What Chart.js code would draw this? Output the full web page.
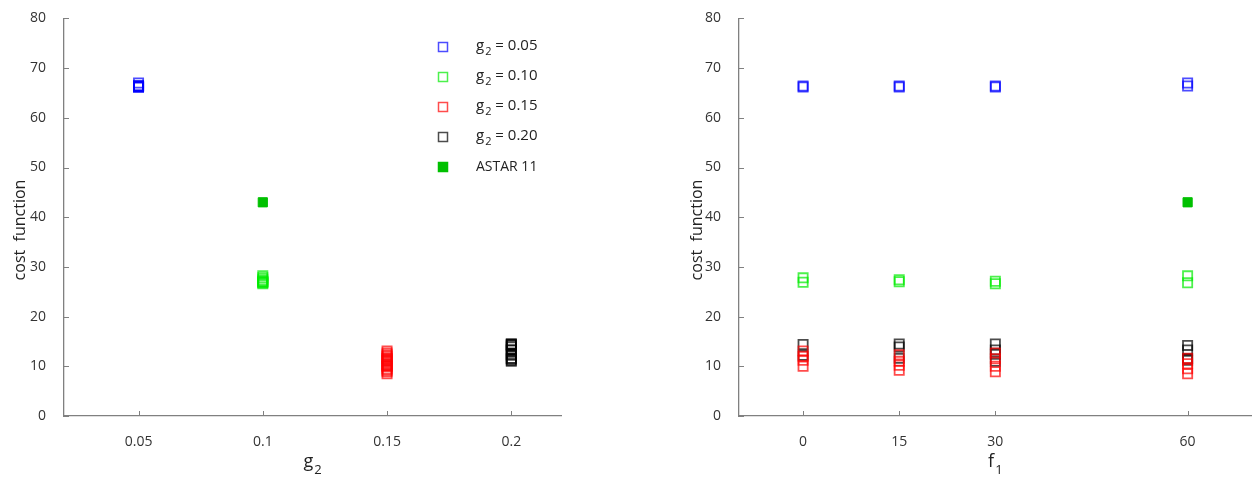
<!DOCTYPE html>
<html>
<head>
<meta charset="utf-8">
<script src="https://cdn.jsdelivr.net/npm/chart.js@4/dist/chart.umd.min.js"></script>
<style>
    html, body { margin: 0; padding: 0; background: #fff; overflow: hidden; }
    body { width: 1252px; height: 483px; position: relative; }
    #left { position: absolute; left: 0; top: 0; }
    #right { position: absolute; left: 676px; top: 0; }
</style>
</head>
<body>
<canvas id="left" width="600" height="483"></canvas>
<canvas id="right" width="584" height="483"></canvas>
<script>
// tick labels
var g2Ticks = [0.05, 0.1, 0.15, 0.2];
var f1Ticks = [0, 15, 30, 60];
var costTicks = [0, 10, 20, 30, 40, 50, 60, 70, 80];

// one entry per run: f1 value and cost, grouped by g2
var g2Values = [0.05, 0.10, 0.15, 0.20];
var g2Labels = ["0.05", "0.10", "0.15", "0.20"];

var blueF1 = [0, 0, 15, 15, 30, 30, 60, 60];
var blueCost = [66.2, 66.4, 66.2, 66.4, 66.2, 66.4, 66.4, 67.0];

var greenF1 = [0, 0, 15, 15, 30, 30, 60, 60];
var greenCost = [27.8, 26.9, 27.4, 27.0, 27.1, 26.6, 28.2, 26.8];

var redF1 = [0, 0, 0, 0, 15, 15, 15, 15, 30, 30, 30, 30, 60, 60, 60, 60];
var redCost = [13.1, 12.0, 11.2, 10.0, 12.3, 11.0, 10.2, 9.2, 12.7, 11.5, 10.0, 8.9, 11.6, 10.5, 9.5, 8.5];

var blackF1 = [0, 0, 15, 15, 15, 30, 30, 30, 30, 60, 60, 60, 60];
var blackCost = [14.4, 12.2, 14.5, 13.9, 11.6, 14.5, 13.3, 12.4, 11.0, 14.2, 13.3, 11.5, 11.2];

var astarG2 = [0.1];
var astarF1 = [60];
var astarCost = [43];

var FONT = "'Open Sans', 'DejaVu Sans', sans-serif";
var colors = ["rgba(0,0,255,0.7)", "rgba(0,235,0,0.7)", "rgba(255,0,0,0.7)", "rgba(0,0,0,0.7)"];
var astarColor = "#00c000";

var runF1 = [blueF1, greenF1, redF1, blackF1];
var runCost = [blueCost, greenCost, redCost, blackCost];

function makeDatasets(useG2) {
    var sets = [];
    for (var i = 0; i < g2Values.length; i++) {
        var pts = [];
        for (var j = 0; j < runCost[i].length; j++) {
            pts.push({ x: useG2 ? g2Values[i] : runF1[i][j], y: runCost[i][j] });
        }
        sets.push({
            label: "g2 = " + g2Labels[i],
            data: pts,
            pointStyle: "rect",
            pointRadius: 6.5,
            borderWidth: 1.8,
            borderColor: colors[i],
            backgroundColor: "rgba(0,0,0,0)",
            showLine: false
        });
    }
    var apts = [];
    for (var k = 0; k < astarCost.length; k++) {
        apts.push({ x: useG2 ? astarG2[k] : astarF1[k], y: astarCost[k] });
    }
    sets.push({
        label: "ASTAR 11",
        data: apts,
        pointStyle: "rect",
        pointRadius: 6.5,
        borderWidth: 1,
        borderColor: astarColor,
        backgroundColor: astarColor,
        showLine: false
    });
    return sets;
}

// text with a subscript, left aligned at x
function subText(ctx, base, sub, x, y, size) {
    ctx.font = size + "px " + FONT;
    ctx.fillText(base, x, y);
    var w = ctx.measureText(base).width;
    ctx.font = Math.round(size * 0.7) + "px " + FONT;
    ctx.fillText(sub, x + w + 1, y + size * 0.4);
    return w + 1 + ctx.measureText(sub).width;
}

var decor = {
    id: "decor",
    afterDraw: function (chart) {
        var ctx = chart.ctx;
        var xs = chart.scales.x, ys = chart.scales.y;
        var area = chart.chartArea;
        var o = chart.options.plugins.decor;
        ctx.save();
        // inward ticks
        ctx.strokeStyle = "#808080";
        ctx.lineWidth = 1;
        ctx.beginPath();
        xs.ticks.forEach(function (t) {
            var px = Math.round(xs.getPixelForValue(t.value)) + 0.5;
            ctx.moveTo(px, area.bottom);
            ctx.lineTo(px, area.bottom - 5);
        });
        ys.ticks.forEach(function (t) {
            var py = Math.round(ys.getPixelForValue(t.value)) + 0.5;
            ctx.moveTo(area.left, py);
            ctx.lineTo(area.left + 5, py);
        });
        ctx.stroke();

        // axis titles
        ctx.fillStyle = "#222";
        ctx.textBaseline = "alphabetic";
        ctx.textAlign = "left";
        ctx.font = "18px " + FONT;
        var bw = ctx.measureText(o.xBase).width;
        ctx.font = "13px " + FONT;
        var sw = ctx.measureText(o.xSub).width;
        var cx = (area.left + area.right) / 2;
        subText(ctx, o.xBase, o.xSub, cx - (bw + 1 + sw) / 2, 467, 18);

        ctx.save();
        ctx.translate(o.yTitleX, 230);
        ctx.rotate(-Math.PI / 2);
        ctx.textAlign = "center";
        ctx.textBaseline = "middle";
        ctx.font = "16px " + FONT;
        ctx.fillText("cost  function", 0, 0);
        ctx.restore();

        // legend inside the plot
        if (o.legend) {
            var rows = chart.data.datasets;
            for (var i = 0; i < rows.length; i++) {
                var ly = 47 + i * 30;
                var ds = rows[i];
                ctx.lineWidth = 1.5;
                ctx.strokeStyle = ds.borderColor;
                ctx.fillStyle = ds.backgroundColor;
                ctx.beginPath();
                ctx.rect(438.5, ly - 4.5, 9, 9);
                ctx.fill();
                ctx.stroke();
                ctx.fillStyle = "#222";
                ctx.textAlign = "left";
                ctx.textBaseline = "middle";
                if (i < g2Labels.length) {
                    var ww = subText(ctx, "g", "2", 476, ly - 1, 15);
                    ctx.font = "15px " + FONT;
                    ctx.fillText(" = " + g2Labels[i], 476 + ww, ly - 1);
                } else {
                    ctx.font = "14px " + FONT;
                    ctx.fillText(ds.label, 476, ly);
                }
            }
        }
        ctx.restore();
    }
};

function makeChart(id, useG2, xMin, xMax, xTicks, yWidth, padRight, decorOpts) {
    var ctx = document.getElementById(id).getContext("2d");
    return new Chart(ctx, {
        type: "scatter",
        data: { datasets: makeDatasets(useG2) },
        options: {
            responsive: false,
            animation: false,
            devicePixelRatio: 1,
            layout: { padding: { top: 12, right: padRight, left: 0, bottom: 0 } },
            plugins: {
                legend: { display: false },
                tooltip: { enabled: false },
                decor: decorOpts
            },
            scales: {
                x: {
                    type: "linear",
                    min: xMin,
                    max: xMax,
                    grid: { display: false },
                    border: { display: true, color: "#808080", width: 1.3 },
                    afterBuildTicks: function (scale) {
                        scale.ticks = xTicks.map(function (v) { return { value: v }; });
                    },
                    afterFit: function (scale) { scale.height = 67; },
                    ticks: {
                        color: "#333",
                        font: { family: FONT, size: 14 },
                        padding: 10,
                        maxRotation: 0,
                        callback: function (v) { return String(v); }
                    }
                },
                y: {
                    min: 0,
                    max: 80,
                    grid: { display: false },
                    border: { display: true, color: "#808080", width: 1.3 },
                    afterBuildTicks: function (scale) {
                        scale.ticks = costTicks.map(function (v) { return { value: v }; });
                    },
                    afterFit: function (scale) { scale.width = yWidth; },
                    ticks: {
                        color: "#333",
                        font: { family: FONT, size: 14 },
                        padding: 10
                    }
                }
            }
        },
        plugins: [decor]
    });
}

window.onload = function () {
    makeChart("left", true, 0.02, 0.22, g2Ticks, 64, 39,
        { xBase: "g", xSub: "2", yTitleX: 20, legend: true });
    makeChart("right", false, -10, 70, f1Ticks, 63, 5,
        { xBase: "f", xSub: "1", yTitleX: 21, legend: false });
};
</script>
</body>
</html>
